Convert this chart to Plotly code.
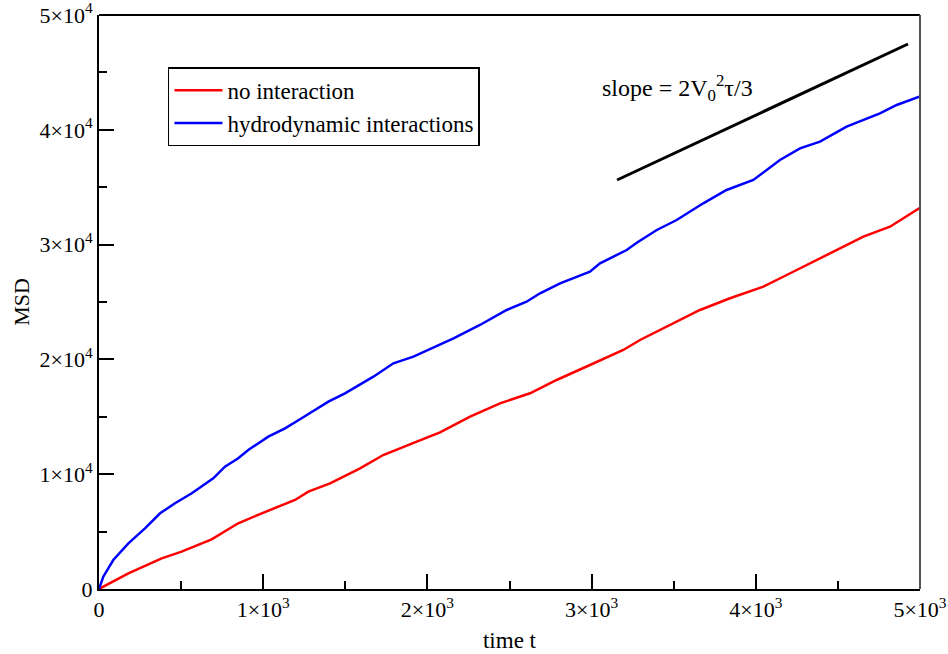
import plotly.graph_objects as go

# Blue: hydrodynamic interactions
t_hydro = [0, 26, 87, 179, 280, 372, 463, 565, 696, 767, 848, 909, 1031, 1133, 1234, 1397, 1498,
           1671, 1793, 1915, 2159, 2320, 2483, 2604, 2686, 2808, 2990, 3051, 3214, 3275, 3397,
           3518, 3680, 3822, 3985, 4147, 4269, 4391, 4553, 4756, 4858, 4990, 5000]
msd_hydro = [0, 1070, 2526, 3980, 5287, 6594, 7465, 8336, 9643, 10653, 11385, 12108, 13267, 14000,
             14870, 16315, 17048, 18493, 19660, 20235, 21838, 22997, 24303, 25026, 25758, 26629,
             27640, 28372, 29530, 30166, 31272, 32143, 33598, 34756, 35627, 37369, 38388, 38963,
             40270, 41437, 42160, 42831, 42900]

# Red: no interaction
t_free = [0, 179, 382, 503, 686, 848, 991, 1194, 1275, 1407, 1590, 1731, 1935, 2077, 2260, 2442,
          2625, 2787, 2990, 3193, 3295, 3417, 3660, 3843, 4046, 4188, 4472, 4655, 4817, 4990, 5000]
msd_free = [0, 1368, 2674, 3250, 4329, 5723, 6594, 7753, 8476, 9207, 10514, 11672, 12831, 13650,
            15010, 16176, 17048, 18206, 19512, 20819, 21690, 22561, 24303, 25323, 26333, 27352,
            29382, 30689, 31560, 33075, 33200]

# Reference slope line
t_slope = [3155, 4927]
msd_slope = [35627, 47474]

x_tickvals = [0, 1000, 2000, 3000, 4000, 5000]
x_ticktext = ["0", "1×10<sup>3</sup>", "2×10<sup>3</sup>", "3×10<sup>3</sup>", "4×10<sup>3</sup>", "5×10<sup>3</sup>"]
y_tickvals = [0, 10000, 20000, 30000, 40000, 50000]
y_ticktext = ["0", "1×10<sup>4</sup>", "2×10<sup>4</sup>", "3×10<sup>4</sup>", "4×10<sup>4</sup>", "5×10<sup>4</sup>"]

FONT = "Liberation Serif"

fig = go.Figure()
fig.add_trace(go.Scatter(x=t_free, y=msd_free, mode="lines", name="no interaction",
                         line=dict(color="#ff0000", width=2.5)))
fig.add_trace(go.Scatter(x=t_hydro, y=msd_hydro, mode="lines", name="hydrodynamic interactions",
                         line=dict(color="#0000ff", width=2.5)))
fig.add_trace(go.Scatter(x=t_slope, y=msd_slope, mode="lines", showlegend=False,
                         line=dict(color="#000000", width=3)))

fig.update_layout(
    width=948, height=654,
    margin=dict(l=99, r=28, t=15, b=65),
    paper_bgcolor="white", plot_bgcolor="white",
    font=dict(family=FONT, color="black", size=20),
    legend=dict(x=0.084, y=0.909, xanchor="left", yanchor="top",
                bordercolor="black", borderwidth=1.5, bgcolor="white",
                font=dict(family=FONT, size=23), itemwidth=48,
                tracegroupgap=0),
    xaxis=dict(range=[0, 5000], tickvals=x_tickvals, ticktext=x_ticktext, automargin=False,
               ticklabeloverflow="allow",
               ticks="inside", ticklen=15, tickwidth=1.5, tickcolor="black",
               showline=True, linecolor="black", linewidth=2, showgrid=False, zeroline=False,
               tickfont=dict(family=FONT, size=22),
               minor=dict(ticks="inside", ticklen=8, tickwidth=1.5, tickcolor="black",
                          dtick=500, showgrid=False),
               title=dict(text="time t", font=dict(family=FONT, size=23), standoff=10)),
    yaxis=dict(range=[0, 50000], tickvals=y_tickvals, ticktext=y_ticktext, automargin=False,
               ticklabeloverflow="allow",
               ticks="inside", ticklen=15, tickwidth=1.5, tickcolor="black",
               showline=True, linecolor="black", linewidth=2, showgrid=False, zeroline=False,
               tickfont=dict(family=FONT, size=22),
               minor=dict(ticks="inside", ticklen=8, tickwidth=1.5, tickcolor="black",
                          dtick=5000, showgrid=False),
               title=dict(text="MSD", font=dict(family=FONT, size=22), standoff=4)),
    shapes=[
        dict(type="line", xref="paper", yref="paper", x0=0, x1=1, y0=1, y1=1,
             line=dict(color="black", width=2)),
        dict(type="line", xref="paper", yref="paper", x0=1, x1=1, y0=0, y1=1,
             line=dict(color="#555555", width=2)),
    ],
    annotations=[
        dict(x=3526, y=43640, xref="x", yref="y", showarrow=False,
             text="slope = 2V<sub>0</sub><sup>2</sup>τ/3",
             font=dict(family=FONT, size=24, color="black")),
    ],
)

fig.write_html("out.html", config={"displayModeBar": False},
               post_script="document.body.style.margin='0';document.body.style.overflow='hidden';")
